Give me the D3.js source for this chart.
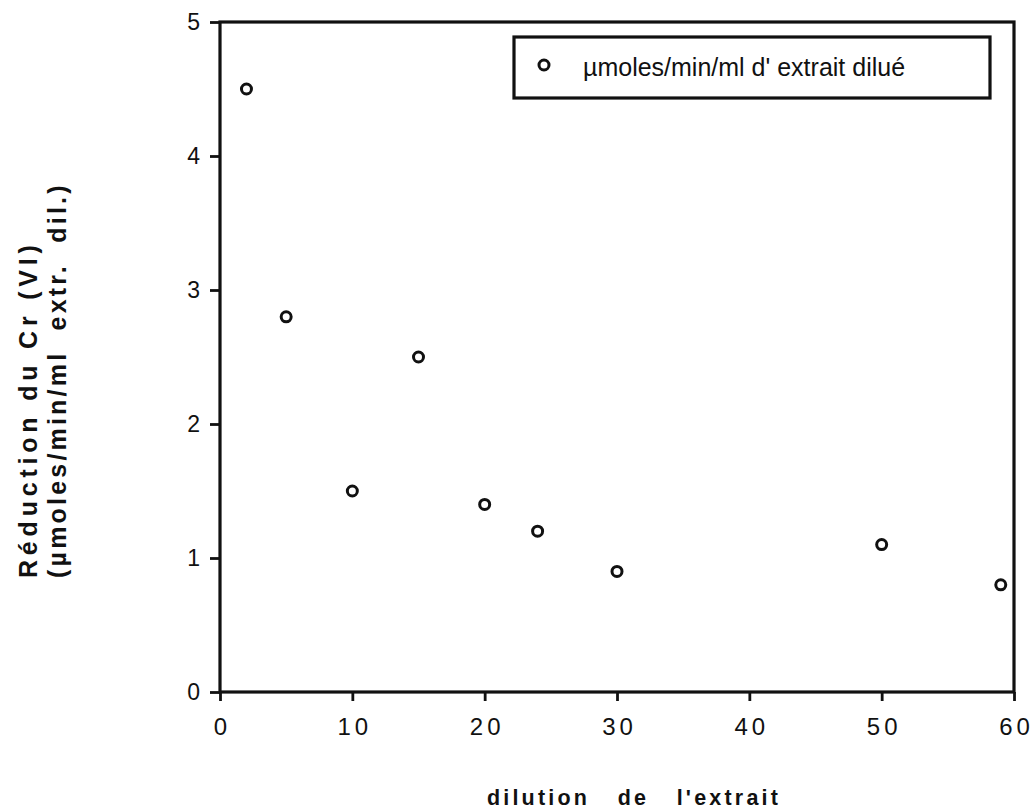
<!DOCTYPE html>
<html><head><meta charset="utf-8">
<script src="https://cdn.jsdelivr.net/npm/d3@7"></script>
<style>body{margin:0;background:#fff;} text{font-family:"Liberation Sans",Arial,Helvetica,sans-serif;fill:#111;}</style>
</head><body>
<svg id="c" width="1035" height="810"></svg>
<script>
const dilution = [2, 5, 10, 15, 20, 24, 30, 50, 59];
const reduction = [4.5, 2.8, 1.5, 2.5, 1.4, 1.2, 0.9, 1.1, 0.8];
const xTicks = [0, 10, 20, 30, 40, 50, 60];
const yTicks = [0, 1, 2, 3, 4, 5];
const seriesName = "µmoles/min/ml d' extrait dilué";
const xTitle = "dilution   de   l'extrait";
const yTitle1 = "Réduction du Cr (VI)";
const yTitle2 = "(µmoles/min/ml  extr.  dil.)";

const svg = d3.select("#c");
const L = 220, R = 1014, T = 22, B = 692;
const x = d3.scaleLinear().domain([0, 60]).range([L, R]);
const y = d3.scaleLinear().domain([0, 5]).range([B, T]);
const ink = "#111";

// frame
svg.append("rect").attr("x", L).attr("y", T).attr("width", R - L).attr("height", B - T)
  .attr("fill", "none").attr("stroke", ink).attr("stroke-width", 3.2);

// x axis
const xa = svg.append("g").attr("transform", `translate(0,${B})`)
  .call(d3.axisBottom(x).tickValues(xTicks).tickSize(9).tickPadding(17).tickFormat(d3.format("d")));
xa.select(".domain").remove();
xa.selectAll("line").attr("stroke", ink).attr("stroke-width", 2.8);
xa.selectAll("text").attr("font-size", 24).attr("letter-spacing", "4px").attr("dx", "2px").attr("fill", ink);

// y axis
const ya = svg.append("g").attr("transform", `translate(${L},0)`)
  .call(d3.axisLeft(y).tickValues(yTicks).tickSize(10).tickPadding(10).tickFormat(d3.format("d")));
ya.select(".domain").remove();
ya.selectAll("line").attr("stroke", ink).attr("stroke-width", 2.8);
ya.selectAll("text").attr("font-size", 23).attr("fill", ink);

// points
svg.append("g").selectAll("circle").data(dilution).join("circle")
  .attr("cx", (d) => x(d)).attr("cy", (d, i) => y(reduction[i]))
  .attr("r", 5).attr("fill", "#fff").attr("stroke", ink).attr("stroke-width", 3);

// legend
const lg = svg.append("g");
lg.append("rect").attr("x", 514).attr("y", 37).attr("width", 476).attr("height", 61)
  .attr("fill", "#fff").attr("stroke", ink).attr("stroke-width", 3.2);
lg.append("circle").attr("cx", 544).attr("cy", 65).attr("r", 5)
  .attr("fill", "#fff").attr("stroke", ink).attr("stroke-width", 3);
lg.append("text").attr("x", 583).attr("y", 76).attr("font-size", 25).text(seriesName);

// x title
svg.append("text").attr("x", 634).attr("y", 805).attr("text-anchor", "middle")
  .attr("font-size", 21.5).attr("font-weight", "bold").attr("letter-spacing", "3.2px")
  .style("white-space", "pre").text(xTitle);

// y title
const yt = svg.append("g").attr("transform", "translate(0,578) rotate(-90)");
yt.append("text").attr("x", 0).attr("y", 37).attr("text-anchor", "start")
  .attr("font-size", 25).attr("font-weight", "bold").attr("letter-spacing", "4.8px")
  .style("white-space", "pre").text(yTitle1);
yt.append("text").attr("x", 0).attr("y", 66).attr("text-anchor", "start")
  .attr("font-size", 25).attr("font-weight", "bold").attr("letter-spacing", "3.2px")
  .style("white-space", "pre").text(yTitle2);
</script>
</body></html>
